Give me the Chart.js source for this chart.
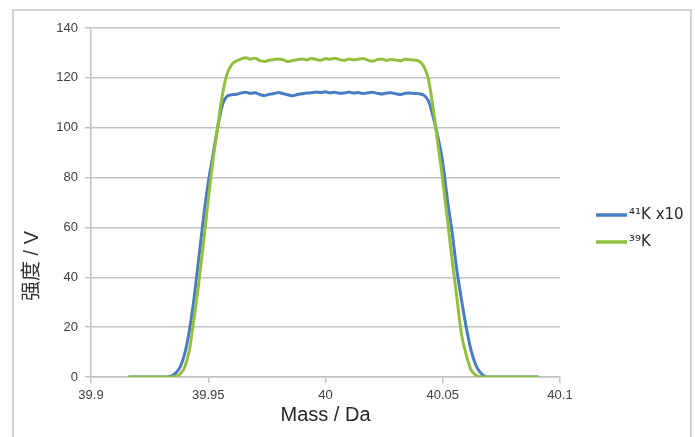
<!DOCTYPE html>
<html>
<head>
<meta charset="utf-8">
<script src="https://cdn.jsdelivr.net/npm/chart.js@4"></script>
<style>
  html, body { margin: 0; padding: 0; background: #fff; }
  #wrap { position: relative; width: 695px; height: 437px; overflow: hidden; }
  #frame { position: absolute; left: 12px; top: 9px; width: 676px; height: 440px; border: 2px solid #d2d2d2; }
  canvas { position: absolute; left: 0; top: 0; }
</style>
</head>
<body>
<div id="wrap">
  <div id="frame"></div>
  <canvas id="massChart" width="695" height="437"></canvas>
</div>
<script>
// mass axis (Da)
const masses = [39.916, 39.920, 39.925, 39.930,
    39.932, 39.934, 39.936, 39.938, 39.940, 39.942, 39.944, 39.946, 39.948, 39.950,
    39.952, 39.954, 39.956, 39.958, 39.960, 39.962, 39.964, 39.966, 39.968, 39.970,
    39.972, 39.974, 39.976, 39.978, 39.980, 39.982, 39.984, 39.986, 39.988, 39.990,
    39.992, 39.994, 39.996, 39.998, 40.000, 40.002, 40.004, 40.006, 40.008, 40.010,
    40.012, 40.014, 40.016, 40.018, 40.020, 40.022, 40.024, 40.026, 40.028, 40.030,
    40.032, 40.034, 40.036, 40.038, 40.040, 40.042, 40.044, 40.046, 40.048, 40.050,
    40.052, 40.054, 40.056, 40.058, 40.060, 40.062, 40.064, 40.066, 40.068, 40.070,
    40.075, 40.080, 40.085, 40.091];

// 41K signal, multiplied by 10 (V)
const k41x10 = [0, 0, 0, 0,
    0, 0.3, 1.5, 4, 9.5, 19, 32, 48, 64, 78,
    89, 100, 109, 112.6, 113.2, 113.4, 113.9, 114.2, 113.8, 114.0,
    113.3, 112.9, 113.4, 113.7, 114.1, 113.6, 113.2, 112.8, 113.3, 113.6,
    113.9, 114.0, 114.3, 114.1, 114.4, 114.0, 114.2, 113.8, 113.9, 114.3,
    113.9, 114.1, 113.7, 114.0, 114.2, 113.8, 113.5, 113.9, 114.0, 113.6,
    113.3, 113.8, 113.9, 113.7, 113.6, 113.0, 110.5, 104, 96, 86,
    71, 58, 43, 31, 20, 11, 5, 1.8, 0.3, 0,
    0, 0, 0, 0];

// 39K signal (V)
const k39 = [0, 0, 0, 0,
    0, 0, 0.2, 1.2, 4, 11, 24, 38, 54, 71,
    87, 100, 113, 121.5, 125.3, 126.8, 127.6, 128.1, 127.5, 127.9,
    126.9, 126.6, 127.1, 127.4, 127.6, 127.2, 126.5, 127.0, 127.3, 127.6,
    127.2, 127.8, 127.4, 127.1, 127.7, 127.5, 127.9, 127.3, 127.0, 127.6,
    127.2, 127.5, 127.8, 127.1, 126.7, 127.3, 127.6, 127.0, 127.4, 127.2,
    126.8, 127.5, 127.3, 127.1, 126.6, 124.5, 119, 107, 93, 79,
    63, 47, 32, 17, 9, 3, 0.8, 0, 0, 0,
    0, 0, 0, 0];

const seriesNames = ["\u2074\u00b9K x10", "\u00b3\u2079K"];
const seriesColors = ["#4a7cc4", "#93bf3e"];

const xTickValues = [39.9, 39.95, 40, 40.05, 40.1];
const xTickLabels = ["39.9", "39.95", "40", "40.05", "40.1"];
const xTitle = "Mass / Da";
const yTitle = "强度 / V";

const toPoints = ys => masses.map((m, i) => ({ x: m, y: ys[i] }));

// y title and legend drawn by hand so they sit where the original has them
const extras = {
    id: "extras",
    afterDraw(chart) {
        const ctx = chart.ctx;
        ctx.save();
        ctx.translate(32, 266);
        ctx.rotate(-Math.PI / 2);
        ctx.font = '20px "Liberation Sans", "Noto Sans CJK SC"';
        ctx.fillStyle = "#333";
        ctx.textAlign = "center";
        ctx.textBaseline = "middle";
        ctx.fillText(yTitle, 0, 0);
        ctx.restore();

        ctx.save();
        chart.data.datasets.forEach((ds, i) => {
            const y = 215 + i * 27;
            ctx.strokeStyle = ds.borderColor;
            ctx.lineWidth = 3.5;
            ctx.beginPath();
            ctx.moveTo(596, y);
            ctx.lineTo(627, y);
            ctx.stroke();
            ctx.font = '15px "DejaVu Sans"';
            ctx.fillStyle = "#2b2b2b";
            ctx.textAlign = "left";
            ctx.textBaseline = "middle";
            ctx.fillText(ds.label, 629, y);
        });
        ctx.restore();
    }
};

new Chart(document.getElementById("massChart"), {
    type: "line",
    data: {
        datasets: [
            {
                label: seriesNames[0],
                data: toPoints(k41x10),
                borderColor: seriesColors[0],
                order: 1
            },
            {
                label: seriesNames[1],
                data: toPoints(k39),
                borderColor: seriesColors[1],
                order: 0
            }
        ]
    },
    options: {
        responsive: false,
        animation: false,
        layout: {
            padding: { top: 28, right: 135, bottom: 0, left: 0 }
        },
        elements: {
            line: { borderWidth: 3, cubicInterpolationMode: "monotone", fill: false },
            point: { radius: 0 }
        },
        plugins: {
            legend: { display: false },
            tooltip: { enabled: false }
        },
        scales: {
            x: {
                type: "linear",
                min: 39.9,
                max: 40.1,
                afterBuildTicks: s => { s.ticks = xTickValues.map(v => ({ value: v })); },
                afterFit: s => { s.height = 60; },
                ticks: {
                    autoSkip: false,
                    maxRotation: 0,
                    padding: 5,
                    color: "#404040",
                    font: { family: "Liberation Sans", size: 13 },
                    callback: (v, i) => xTickLabels[i]
                },
                grid: {
                    drawOnChartArea: false,
                    drawTicks: true,
                    tickLength: 6,
                    color: "#c2c2c2",
                    lineWidth: 1.5
                },
                border: { color: "#c2c2c2", width: 1.5 },
                title: {
                    display: true,
                    text: xTitle,
                    color: "#262626",
                    font: { family: "Liberation Sans", size: 20 },
                    padding: { top: 0, bottom: 10 }
                }
            },
            y: {
                min: 0,
                max: 140,
                afterFit: s => { s.width = 91; },
                ticks: {
                    stepSize: 20,
                    padding: 7,
                    color: "#404040",
                    font: { family: "Liberation Sans", size: 13 }
                },
                grid: {
                    color: "#c2c2c2",
                    lineWidth: 1.5,
                    tickLength: 6
                },
                border: { color: "#c2c2c2", width: 1.5 }
            }
        }
    },
    plugins: [extras]
});
</script>
</body>
</html>
